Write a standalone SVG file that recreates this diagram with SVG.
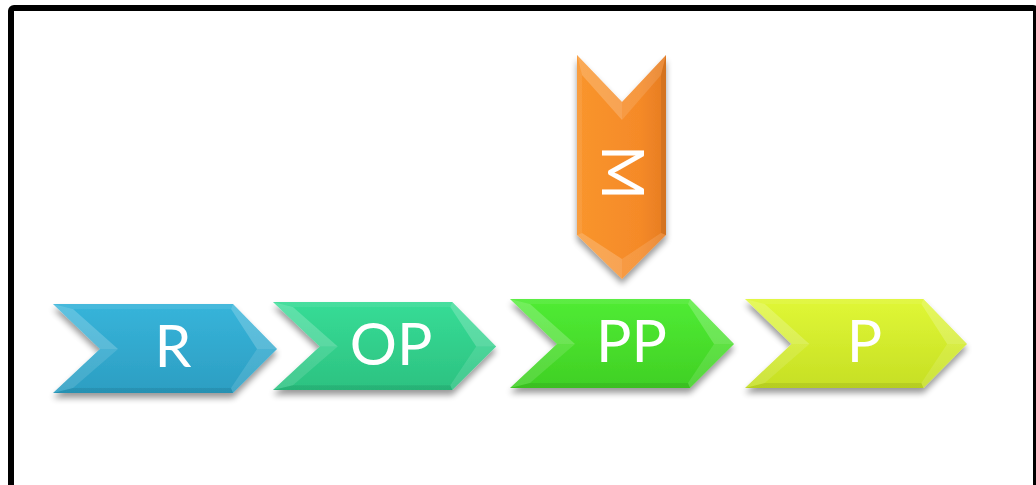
<svg xmlns="http://www.w3.org/2000/svg" xmlns:xlink="http://www.w3.org/1999/xlink" width="1036" height="485" viewBox="0 0 1036 485">
  <style>
    .label { font-family: Lato, "Open Sans", "Liberation Sans", sans-serif; font-size: 59px; fill: #ffffff; text-anchor: middle; }
    .f-light { fill: #ffffff; fill-opacity: 0.2; }
    .f-soft { fill: #ffffff; fill-opacity: 0.12; }
    .f-dark { fill: #000000; fill-opacity: 0.08; }
    .f-top { fill: #ffffff; fill-opacity: 0.08; }
  </style>
  <defs>
    <filter id="shadow" x="-10%" y="-20%" width="120%" height="150%">
      <feGaussianBlur in="SourceAlpha" stdDeviation="3"/>
      <feOffset dx="0" dy="5" result="b"/>
      <feComponentTransfer><feFuncA type="linear" slope="0.4"/></feComponentTransfer>
      <feMerge><feMergeNode/><feMergeNode in="SourceGraphic"/></feMerge>
    </filter>
    <linearGradient id="g-blue" x1="0" y1="0" x2="0" y2="1">
      <stop offset="0" stop-color="#37B4DA"/><stop offset="1" stop-color="#2C9EC2"/>
    </linearGradient>
    <linearGradient id="g-teal" x1="0" y1="0" x2="0" y2="1">
      <stop offset="0" stop-color="#37DC96"/><stop offset="1" stop-color="#2CC281"/>
    </linearGradient>
    <linearGradient id="g-green" x1="0" y1="0" x2="0" y2="1">
      <stop offset="0" stop-color="#50EC34"/><stop offset="1" stop-color="#40D024"/>
    </linearGradient>
    <linearGradient id="g-lime" x1="0" y1="0" x2="0" y2="1">
      <stop offset="0" stop-color="#E0F736"/><stop offset="1" stop-color="#C6DF24"/>
    </linearGradient>
    <linearGradient id="g-orange" x1="0" y1="0" x2="0" y2="1">
      <stop offset="0" stop-color="#F9952D"/><stop offset="0.7" stop-color="#F58A28"/><stop offset="1" stop-color="#E67C22"/>
    </linearGradient>
    <!-- chevron outline, local coordinates: 224 long, 89 high -->
    <polygon id="chev" points="0,0 180,0 224,45 180,89 0,89 47,45"/>
    <!-- bevel facets laid over the chevron body -->
    <g id="bevel">
      <polygon class="f-top" points="0,0 180,0 178,5 20,5"/>
      <polygon class="f-light" points="0,0 20,5 65,45 47,45"/>
      <polygon class="f-soft" points="47,45 65,45 20,84 0,89"/>
      <polygon class="f-dark" points="0,89 20,84 178,84 180,89"/>
      <polygon class="f-light" points="180,0 224,45 204,45 178,5"/>
      <polygon class="f-soft" points="224,45 180,89 178,84 204,45"/>
    </g>
  </defs>

  <!-- frame -->
  <rect x="11" y="8" width="1025" height="495" rx="3" fill="#ffffff" stroke="#000000" stroke-width="6"/>

  <g id="node-m">
    <g filter="url(#shadow)">
      <use xlink:href="#chev" fill="url(#g-orange)" transform="matrix(0 1 1 0 577 55)"/>
    </g>
    <use xlink:href="#bevel" transform="matrix(0 1 1 0 577 55)"/>
    <text class="label" x="622.5" y="193.5" transform="rotate(90 622.5 172.5)">M</text>
  </g>

  <g id="node-r">
    <g filter="url(#shadow)">
      <use xlink:href="#chev" fill="url(#g-blue)" transform="translate(53 304)"/>
    </g>
    <use xlink:href="#bevel" transform="translate(53 304)"/>
    <text class="label" x="173" y="367">R</text>
  </g>

  <g id="node-op">
    <g filter="url(#shadow)">
      <use xlink:href="#chev" fill="url(#g-teal)" transform="translate(273 302) scale(0.996 0.99)"/>
    </g>
    <use xlink:href="#bevel" transform="translate(273 302) scale(0.996 0.99)"/>
    <text class="label" x="391" y="365">OP</text>
  </g>

  <g id="node-pp">
    <g filter="url(#shadow)">
      <use xlink:href="#chev" fill="url(#g-green)" transform="translate(510 299)"/>
    </g>
    <use xlink:href="#bevel" transform="translate(510 299)"/>
    <text class="label" x="631.5" y="362">PP</text>
  </g>

  <g id="node-p">
    <g filter="url(#shadow)">
      <use xlink:href="#chev" fill="url(#g-lime)" transform="translate(745 299) scale(0.991 1)"/>
    </g>
    <use xlink:href="#bevel" transform="translate(745 299) scale(0.991 1)"/>
    <text class="label" x="864.5" y="362">P</text>
  </g>

  <g id="connectors"/>
</svg>
